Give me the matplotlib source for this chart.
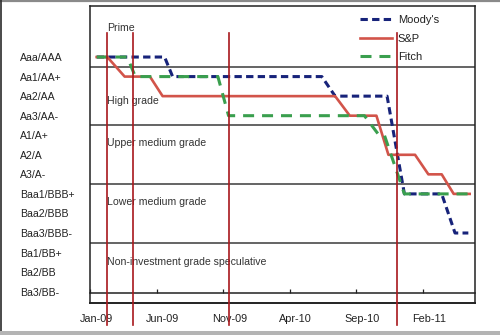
import matplotlib
matplotlib.use("Agg")
import matplotlib.pyplot as plt
import matplotlib.transforms as mtransforms
from matplotlib.lines import Line2D

plt.rcParams["font.family"] = ["Liberation Sans", "DejaVu Sans"]

# Rating scale (notch 1 = Aaa/AAA)
rating_labels = ["Aaa/AAA", "Aa1/AA+", "Aa2/AA", "Aa3/AA-", "A1/A+", "A2/A", "A3/A-",
                 "Baa1/BBB+", "Baa2/BBB", "Baa3/BBB-", "Ba1/BB+", "Ba2/BB", "Ba3/BB-"]
rating_notches = list(range(1, len(rating_labels) + 1))

# Time axis in months since Jan-09
x_tick_months = [0, 5, 10, 15, 20, 25]
x_tick_labels = ["Jan-09", "Jun-09", "Nov-09", "Apr-10", "Sep-10", "Feb-11"]

# Agency ratings over time (month, notch)
moodys_months = [0.5, 5.6, 6.2, 17.4, 18.4, 22.3, 23.6, 26.4, 27.4, 28.4]
moodys_notch = [1, 1, 2, 2, 3, 3, 8, 8, 10, 10]

sp_months = [0.5, 1.3, 2.6, 4.5, 5.45, 18.4, 19.5, 21.5, 22.4, 24.4, 25.4, 26.4, 27.3, 28.5]
sp_notch = [1, 1, 2, 2, 3, 3, 4, 4, 6, 6, 7, 7, 8, 8]

fitch_months = [0.5, 2.8, 3.4, 9.6, 10.4, 20.6, 21.7, 22.1, 23.6, 28.5]
fitch_notch = [1, 1, 2, 2, 4, 4, 5, 5, 8, 8]

# Key event dates (months since Jan-09)
event_months = [1.24, 3.2, 10.4, 23.05]

# Grade bands: boundaries between notches and label positions
band_bounds = [1.5, 4.5, 7.5, 10.5]
band_names = ["Prime", "High grade", "Upper medium grade", "Lower medium grade",
              "Non-investment grade speculative"]
band_label_y = [-0.48, 3.25, 5.4, 8.4, 11.5]

W, H = 500, 335
fig = plt.figure(figsize=(W / 100, H / 100), dpi=100)
ax = fig.add_axes([90 / W, 1 - 303 / H, 385 / W, 297 / H])

ax.set_xlim(0, 28.9)
ax.set_ylim(13.58, -1.61)
axis_level = 13.07

# band separators
for b in band_bounds:
    ax.axhline(b, color="#4a4a4a", lw=1.2, zorder=1)

for name, y in zip(band_names, band_label_y):
    ax.text(1.3, y, name, fontsize=7.6, color="#333333", va="center", ha="left", zorder=2)

ax.plot(moodys_months, moodys_notch, color="#17237a", lw=2.2, dashes=(2.4, 1.4),
        label="Moody's", zorder=3)
ax.plot(sp_months, sp_notch, color="#d2544a", lw=1.9, label="S&P", zorder=4)
ax.plot(fitch_months, fitch_notch, color="#3a9f4e", lw=2.2, dashes=(3.6, 2.6),
        label="Fitch", zorder=5)

# event markers extend past the plot frame
trans = mtransforms.blended_transform_factory(ax.transData, ax.transAxes)
for m in event_months:
    ax.plot([m, m], [(303 - 33) / 297, (303 - 325) / 297], transform=trans,
            color="#a8181c", lw=1.2, clip_on=False, zorder=6)

# frame
for s in ["left", "right", "top"]:
    ax.spines[s].set_color("#222222")
    ax.spines[s].set_linewidth(1.1)
ax.spines["bottom"].set_position(("data", axis_level))
ax.spines["bottom"].set_color("#222222")
ax.spines["bottom"].set_linewidth(1.1)
ax.plot([0, 1], [0, 0], transform=ax.transAxes, color="#222222", lw=1.4, clip_on=False)

ax.set_xticks(x_tick_months)
ax.set_xticklabels(x_tick_labels)
ax.tick_params(axis="x", direction="in", length=3, width=0.9, pad=15,
               labelsize=7.8, labelcolor="#222222", color="#222222")
offset = mtransforms.ScaledTranslation(6 / 100, 0, fig.dpi_scale_trans)
for lab in ax.get_xticklabels():
    lab.set_transform(lab.get_transform() + offset)

ax.set_yticks(rating_notches)
ax.set_yticklabels(rating_labels)
ax.tick_params(axis="y", length=0, pad=50.4, labelsize=7.6, labelcolor="#222222")
for lab in ax.get_yticklabels():
    lab.set_horizontalalignment("left")

leg = ax.legend(loc="upper left", bbox_to_anchor=(360 / W, 1 - 15 / H),
                bbox_transform=fig.transFigure, frameon=False, fontsize=8,
                handlelength=2.9, handletextpad=0.5, labelspacing=0.78,
                borderpad=0, borderaxespad=0)
for t in leg.get_texts():
    t.set_color("#222222")

# outer border of the picture
fig.add_artist(Line2D([0, 1], [1 - 1 / H, 1 - 1 / H], transform=fig.transFigure,
                      color="#8a8a8a", lw=1.6))
fig.add_artist(Line2D([0.6 / W, 0.6 / W], [0, 1], transform=fig.transFigure,
                      color="#2a2a2a", lw=1.2))
fig.add_artist(Line2D([0, 1], [2.5 / H, 2.5 / H], transform=fig.transFigure,
                      color="#b4b4b4", lw=3.6))

fig.savefig("out.png", dpi=100)
